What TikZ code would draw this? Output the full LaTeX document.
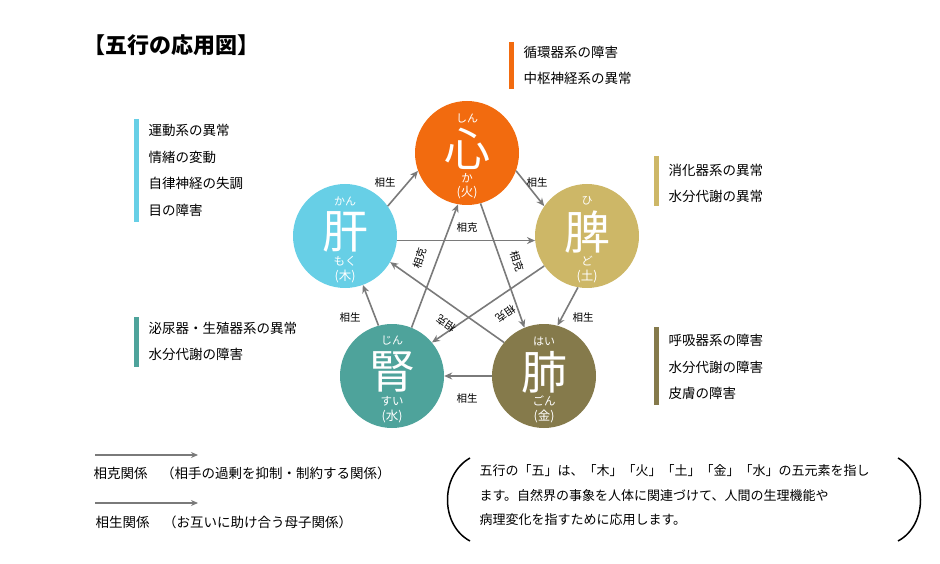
\documentclass[tikz,border=0pt]{standalone}
\usepackage{fontspec}
\setmainfont{Noto Sans CJK JP}
\usetikzlibrary{arrows.meta}
\definecolor{cfire}{HTML}{F26B0F}
\definecolor{cwood}{HTML}{67CFE6}
\definecolor{cearth}{HTML}{CDB767}
\definecolor{cwater}{HTML}{4EA39B}
\definecolor{cmetal}{HTML}{857A4B}
\definecolor{arr}{HTML}{7A7A7A}
\tikzset{
 organ/.style={circle,minimum size=104pt,inner sep=0pt,text=white},
 conn/.style={draw=arr,line width=1.6pt,-{Stealth[length=8pt,width=7pt]}},
 lbl/.style={font=\fontsize{10.5}{12}\selectfont,inner sep=0.5pt},
 lst/.style={anchor=west,font=\fontsize{13.5}{15}\selectfont},
 bar/.style={line width=5pt},
}
\newcommand{\organ}[8]{%
 \node[organ,fill=#4] (#1) at (#2,#3) {};
 \node[text=white,font=\fontsize{11}{12}\selectfont] at (#2,#3-35) {#6};
 \node[text=white,font=\fontsize{46}{50}\selectfont] at (#2,#3-4) {#5};
 \node[text=white,font=\fontsize{11.5}{12}\selectfont] at (#2,#3+25) {#7};
 \node[text=white,font=\fontsize{12.5}{14}\selectfont] at (#2,#3+40) {#8};
}
\begin{document}
\begin{tikzpicture}[x=1pt,y=-1pt]
\useasboundingbox (0,0) rectangle (940,564);
\node[anchor=west,font=\bfseries\fontsize{22}{26}\selectfont] (title) at (80,45) {【五行の応用図】};
\organ{shin}{467}{153}{cfire}{心}{しん}{か}{(火)}
\organ{kan}{345}{236}{cwood}{肝}{かん}{もく}{(木)}
\organ{hi}{587}{236}{cearth}{脾}{ひ}{ど}{(土)}
\organ{jin}{392}{376}{cwater}{腎}{じん}{すい}{(水)}
\organ{hai}{544}{376}{cmetal}{肺}{はい}{ごん}{(金)}
% generating
\draw[conn] (kan.35) -- (shin.200);
\draw[conn] (shin.-20) -- (hi.145);
\draw[conn] (hi.-100) -- (hai.75);
\draw[conn] (hai.180) -- (jin.0);
\draw[conn] (jin.105) -- (kan.-70);
\node[lbl] (l1) at (385,183) {相生};
\node[lbl] (l2) at (537,183) {相生};
\node[lbl] (l3) at (583,318) {相生};
\node[lbl] (l4) at (467,399) {相生};
\node[lbl] (l5) at (350,318) {相生};
% controlling
\draw[conn] (kan.-5) -- (hi.185);
\draw[conn] (shin.-75) -- (hai.112);
\draw[conn] (hi.215) -- (jin.40);
\draw[conn] (hai.140) -- (kan.-30);
\draw[conn] (jin.68) -- (shin.-100);
\node[lbl] (k1) at (467,228) {相克};
\node[lbl,rotate=-72] (k2) at (517,261) {相克};
\node[lbl,rotate=72] (k3) at (420,258) {相克};
\node[lbl,rotate=215] (k4) at (506,314) {相克};
\node[lbl,rotate=145] (k5) at (446,324) {相克};
% lists
\draw[bar,cfire] (511,42) -- (511,89);
\node[lst] at (520,52) {循環器系の障害};
\node[lst] at (520,78) {中枢神経系の異常};
\draw[bar,cwood] (136,119) -- (136,222);
\node[lst] at (145,130) {運動系の異常};
\node[lst] at (145,157) {情緒の変動};
\node[lst] at (145,183) {自律神経の失調};
\node[lst] at (145,210) {目の障害};
\draw[bar,cearth] (656,156) -- (656,206);
\node[lst] at (665,170) {消化器系の異常};
\node[lst] at (665,196) {水分代謝の異常};
\draw[bar,cwater] (136,317) -- (136,367);
\node[lst] at (145,328) {泌尿器・生殖器系の異常};
\node[lst] at (145,354) {水分代謝の障害};
\draw[bar,cmetal] (656,327) -- (656,405);
\node[lst] at (665,340) {呼吸器系の障害};
\node[lst] at (665,367) {水分代謝の障害};
\node[lst] at (665,393) {皮膚の障害};
% legend
\coordinate (a1) at (95,455); \coordinate (b1) at (198,455);
\coordinate (a2) at (95,503); \coordinate (b2) at (198,503);
\draw[draw=arr,line width=1.2pt,-{Stealth[length=7pt,width=6pt]}] (a1) -- (b1);
\draw[draw=arr,line width=1.2pt,-{Stealth[length=7pt,width=6pt]}] (a2) -- (b2);
\node[lst] at (90,473) {相克関係　（相手の過剰を抑制・制約する関係）};
\node[lst] at (92,522) {相生関係　（お互いに助け合う母子関係）};
% bracketed note
\draw[line width=1.5pt] (470,458) .. controls (440,475) and (440,525) .. (470,541);
\draw[line width=1.5pt] (898,458) .. controls (928,475) and (928,525) .. (898,541);
\node[lst,font=\fontsize{13}{15}\selectfont] at (476,471) {五行の「五」は、「木」「火」「土」「金」「水」の五元素を指し};
\node[lst,font=\fontsize{13}{15}\selectfont] at (476,496) {ます。自然界の事象を人体に関連づけて、人間の生理機能や};
\node[lst,font=\fontsize{13}{15}\selectfont] at (476,520) {病理変化を指すために応用します。};
\end{tikzpicture}
\end{document}
